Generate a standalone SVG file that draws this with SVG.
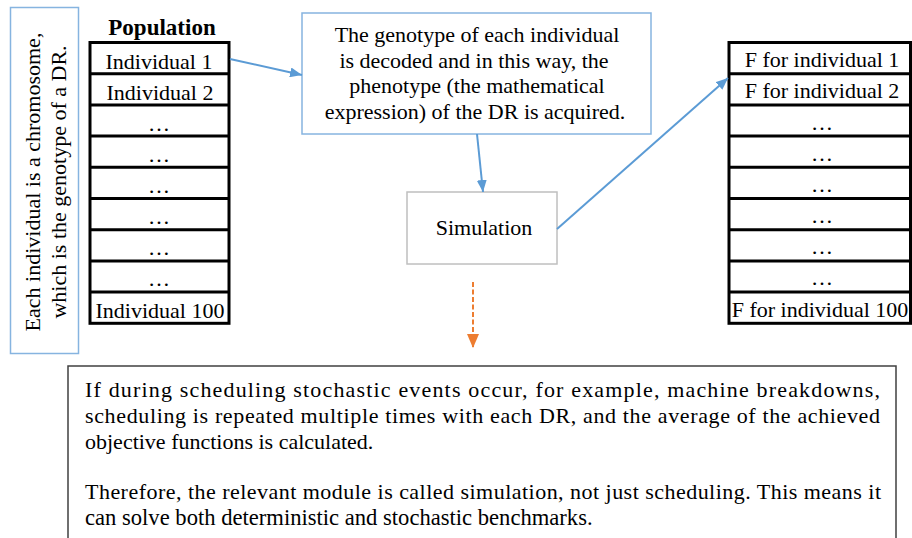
<svg xmlns="http://www.w3.org/2000/svg" width="912" height="538" viewBox="0 0 912 538">
<defs>
<style>
text{font-family:'Liberation Serif','Times New Roman',serif;font-size:22px;fill:#000}
.c{text-anchor:middle}
.tbl{fill:#fff;stroke:#000;stroke-width:3}
.row{stroke:#000;stroke-width:3}
.blue{fill:#fff;stroke:#86B4E0;stroke-width:1.5}
.conn{fill:none;stroke:#5B9BD5;stroke-width:2}
</style>
<marker id="ab" markerWidth="12" markerHeight="10" refX="12" refY="5" orient="auto" markerUnits="userSpaceOnUse">
<path d="M0,0 L12,5 L0,10 Z" fill="#5B9BD5"/>
</marker>
<marker id="ao" markerWidth="14" markerHeight="12" refX="14" refY="6" orient="auto" markerUnits="userSpaceOnUse">
<path d="M0,0 L14,6 L0,12 Z" fill="#ED7D31"/>
</marker>
</defs>
<rect width="912" height="538" fill="#fff"/>

<g id="chromosome-note">
<rect x="10.5" y="7.5" width="68" height="346" class="blue"/>
<text class="c" transform="translate(40,182) rotate(-90)">Each individual is a chromosome,</text>
<text class="c" transform="translate(66,182) rotate(-90)">which is the genotype of a DR.</text>
</g>

<g id="population">
<text x="162" y="35" class="c" style="font-weight:bold;font-size:23px">Population</text>
<rect x="90" y="42.5" width="139" height="280.8" class="tbl"/>
<path class="row" d="M90,73.7H229M90,104.9H229M90,136.1H229M90,167.3H229M90,198.5H229M90,229.7H229M90,260.9H229M90,292.1H229"/>
<text x="159" y="69" class="c">Individual 1</text>
<text x="160" y="100" class="c">Individual 2</text>
<text x="159" y="131" class="c">…</text>
<text x="159" y="162" class="c">…</text>
<text x="159" y="193" class="c">…</text>
<text x="159" y="224" class="c">…</text>
<text x="159" y="255" class="c">…</text>
<text x="159" y="286" class="c">…</text>
<text x="160" y="318" class="c">Individual 100</text>
</g>

<g id="decode">
<rect x="302" y="13" width="349" height="121" class="blue"/>
<text x="477" y="42" class="c">The genotype of each individual</text>
<text x="474" y="67.5" class="c">is decoded and in this way, the</text>
<text x="477" y="93" class="c">phenotype (the mathematical</text>
<text x="475" y="118.5" class="c">expression) of the DR is acquired.</text>
</g>

<g id="simulation">
<rect x="407" y="192" width="150" height="72" fill="#fff" stroke="#BFBFBF" stroke-width="1.5"/>
<text x="484" y="235" class="c">Simulation</text>
</g>

<g id="fitness">
<rect x="729" y="42.5" width="181.5" height="280.8" class="tbl"/>
<path class="row" d="M729,73.7H910.5M729,104.9H910.5M729,136.1H910.5M729,167.3H910.5M729,198.5H910.5M729,229.7H910.5M729,260.9H910.5M729,292.1H910.5"/>
<text x="822" y="67" class="c">F for individual 1</text>
<text x="822" y="98" class="c">F for individual 2</text>
<text x="822" y="130" class="c">…</text>
<text x="822" y="161" class="c">…</text>
<text x="822" y="192" class="c">…</text>
<text x="822" y="223" class="c">…</text>
<text x="822" y="254" class="c">…</text>
<text x="822" y="285" class="c">…</text>
<text x="820" y="317" class="c">F for individual 100</text>
</g>

<g id="note">
<path d="M68,545V366H896V545" fill="none" stroke="#404040" stroke-width="1.5"/>
<text x="85" y="396.5" textLength="795" lengthAdjust="spacing">If during scheduling stochastic events occur, for example, machine breakdowns,</text>
<text x="85" y="422.5" textLength="795" lengthAdjust="spacing">scheduling is repeated multiple times with each DR, and the average of the achieved</text>
<text x="85" y="448.5">objective functions is calculated.</text>
<text x="85" y="499" textLength="796" lengthAdjust="spacing">Therefore, the relevant module is called simulation, not just scheduling. This means it</text>
<text x="85" y="525" style="font-size:22.6px">can solve both deterministic and stochastic benchmarks.</text>
</g>

<g id="connectors">
<line x1="230" y1="59" x2="302" y2="75" class="conn" marker-end="url(#ab)"/>
<line x1="477" y1="134" x2="483" y2="192" class="conn" marker-end="url(#ab)"/>
<line x1="557" y1="229" x2="728" y2="78" class="conn" marker-end="url(#ab)"/>
<line x1="473" y1="282" x2="473" y2="348" fill="none" stroke="#ED7D31" stroke-width="2" stroke-dasharray="5,2.5" marker-end="url(#ao)"/>
</g>
</svg>
